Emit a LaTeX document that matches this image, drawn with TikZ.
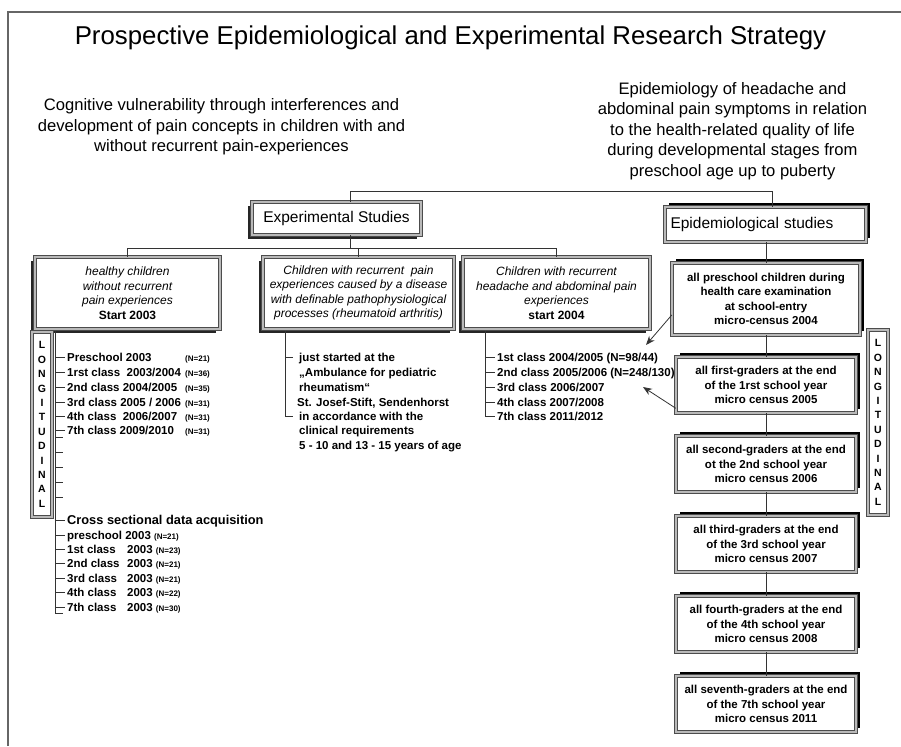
\documentclass[tikz,border=0pt]{standalone}
\usepackage{fontspec}
\setmainfont{Liberation Sans}
\usetikzlibrary{arrows.meta}
\usetikzlibrary{shadows}
\newcommand{\subfont}{\fontsize{16.6}{20.5}\selectfont}
\newcommand{\boxfont}{\fontsize{12}{14.5}\selectfont\itshape}
\newcommand{\epifont}{\fontsize{11.5}{14.5}\selectfont\bfseries}
\newcommand{\itemfont}{\fontsize{11.5}{14.5}\selectfont\bfseries}
\newcommand{\longfont}{\fontsize{10.5}{14.4}\selectfont\bfseries}
\newcommand{\nsmall}{\fontsize{8}{9}\selectfont}

\tikzset{
    rim/.style={draw=black!70, line width=0.5pt, double=gray!55, double distance=2.4pt,
        fill=white, align=center, inner sep=2pt},
    expbox/.style={rim, drop shadow={shadow xshift=-4pt, shadow yshift=-4pt, fill=black!85, opacity=1}},
    epibox/.style={rim, drop shadow={shadow xshift=4pt, shadow yshift=4.5pt, fill=black, opacity=1}},
    longbox/.style={rim, font=\longfont, inner sep=0pt, minimum width=20, minimum height=185},
    item/.style={anchor=west, inner xsep=2pt, inner ysep=0pt, text height=8.5pt, text depth=0pt, font=\itemfont},
    link/.style={draw=black!80, line width=0.8pt},
    arrow/.style={link, -{Stealth[length=9pt,width=7pt]}}
}

\begin{document}
\begin{tikzpicture}[x=1pt,y=-1pt]
    \useasboundingbox (0,0) rectangle (901,746);
    \draw[black!60, line width=1.2pt] (8,746) -- (8,12) -- (901,12);

    % headings
    \node[anchor=base] (title) at (450.5,45) {\fontsize{25.8}{30}\selectfont Prospective Epidemiological and Experimental Research Strategy};
    \node[font=\subfont, align=center] (cogn) at (221.5,127) {Cognitive vulnerability through interferences and\\development of pain concepts in children with and\\without recurrent pain-experiences};
    \node[font=\subfont, align=center] (epidem) at (732.5,131) {Epidemiology of headache and\\abdominal pain symptoms in relation\\to the health-related quality of life\\during developmental stages from\\preschool age up to puberty};

    % experimental branch
    \begin{scope}[every node/.style={expbox}]
        \node[minimum width=169, minimum height=33, font=\fontsize{15.5}{18}\selectfont] (exp) at (336.5,218.5) {Experimental Studies};
        \node[minimum width=185, minimum height=72, font=\boxfont] (healthy) at (127.5,293) {healthy children\\without recurrent\\pain experiences\\{\upshape\bfseries Start 2003}};
        \node[minimum width=191, minimum height=72, font=\boxfont] (rheuma) at (358.5,293) {Children with recurrent~ pain\\experiences caused by a disease\\with definable pathophysiological\\processes (rheumatoid arthritis)};
        \node[minimum width=187, minimum height=72, font=\boxfont] (headache) at (556.5,293) {Children with recurrent\\headache and abdominal pain\\experiences\\{\upshape\bfseries start 2004}};
    \end{scope}

    % epidemiological branch
    \begin{scope}[every node/.style={epibox, minimum width=180, minimum height=56, font=\epifont}]
        \node[minimum width=201, minimum height=35, text width=190, align=left, font=\fontsize{15.5}{18}\selectfont] (epi) at (765.5,224.5) {Epidemiological studies};
        \node[minimum width=188, minimum height=72] (e04) at (766,299) {all preschool children during\\health care examination\\at school-entry\\micro-census 2004};
        \node (e05) at (766,385) {all first-graders at the end\\of the 1rst school year\\micro census 2005};
        \node (e06) at (766,464) {all second-graders at the end\\ot the 2nd school year\\micro census 2006};
        \node (e07) at (766,544) {all third-graders at the end\\of the 3rd school year\\micro census 2007};
        \node (e08) at (766,624) {all fourth-graders at the end\\of the 4th school year\\micro census 2008};
        \node (e11) at (766,704) {all seventh-graders at the end\\of the 7th school year\\micro census 2011};
    \end{scope}

    \node[longbox] (longL) at (42,424.5) {L\\O\\N\\G\\I\\T\\U\\D\\I\\N\\A\\L};
    \node[longbox] (longR) at (878,422.5) {L\\O\\N\\G\\I\\T\\U\\D\\I\\N\\A\\L};

    % lists
    \begin{scope}[every node/.style={item}]
        \node (p1) at (65,357) {\makebox[118pt][l]{Preschool 2003}{\nsmall(N=21)}};
        \node (p2) at (65,372) {\makebox[118pt][l]{1rst class~ 2003/2004}{\nsmall(N=36)}};
        \node (p3) at (65,387) {\makebox[118pt][l]{2nd class 2004/2005}{\nsmall(N=35)}};
        \node (p4) at (65,402) {\makebox[118pt][l]{3rd class 2005 / 2006}{\nsmall(N=31)}};
        \node (p5) at (65,416) {\makebox[118pt][l]{4th class~ 2006/2007}{\nsmall(N=31)}};
        \node (p6) at (65,430) {\makebox[118pt][l]{7th class 2009/2010}{\nsmall(N=31)}};

        \node (c0) at (65,520) {\fontsize{12.8}{15}\selectfont Cross sectional data acquisition};
        \node (c1) at (65,535) {preschool 2003 {\nsmall(N=21)}};
        \node (c2) at (65,549) {\makebox[60pt][l]{1st class}2003 {\nsmall(N=23)}};
        \node (c3) at (65,563) {\makebox[60pt][l]{2nd class}2003 {\nsmall(N=21)}};
        \node (c4) at (65,578) {\makebox[60pt][l]{3rd class}2003 {\nsmall(N=21)}};
        \node (c5) at (65,592) {\makebox[60pt][l]{4th class}2003 {\nsmall(N=22)}};
        \node (c6) at (65,607) {\makebox[60pt][l]{7th class}2003 {\nsmall(N=30)}};

        \node (m1) at (297,357) {just started at the};
        \node (m2) at (297,372) {„Ambulance for pediatric};
        \node (m3) at (297,387) {rheumatism“};
        \node (m4) at (295,402) {St. Josef-Stift, Sendenhorst};
        \node (m5) at (297,416) {in accordance with the};
        \node (m6) at (297,430) {clinical requirements};
        \node (m7) at (297,445) {5 - 10 and 13 - 15 years of age};

        \node (r1) at (495,357) {1st class 2004/2005 (N=98/44)};
        \node (r2) at (495,372) {2nd class 2005/2006 (N=248/130)};
        \node (r3) at (495,387) {3rd class 2006/2007};
        \node (r4) at (495,402) {4th class 2007/2008};
        \node (r5) at (495,416) {7th class 2011/2012};
    \end{scope}

    \coordinate (lspine) at (55,331);
    \coordinate (lend) at (55,613);
    \coordinate (mspine) at (285,331);
    \coordinate (rspine) at (485,331);
    \coordinate (a1) at (646,345);
    \coordinate (a2) at (643,387);

    % connectors
    \draw[link] ([xshift=14pt]exp.north) -- ++(0,-10) -| ([xshift=6.5pt]epi.north);
    \draw[link] ([xshift=14pt]exp.south) -- ++(0,13) coordinate (hub);
    \draw[link] (healthy.north) |- (hub) -| (headache.north);
    \draw[link] (hub -| rheuma.north) -- (rheuma.north);
    \draw[link] (e04.north |- epi.south) -- (e04.north);
    \draw[link] (e04) -- (e05);
    \draw[link] (e05) -- (e06);
    \draw[link] (e06) -- (e07);
    \draw[link] (e07) -- (e08);
    \draw[link] (e08) -- (e11);

    \draw[link] (lspine) -- (lend) -- ++(8,0);
    \foreach \n in {p1,p2,p3,p4,p5,p6,c0,c1,c2,c3,c4,c5,c6}
        \draw[link] (lspine |- \n.west) -- (\n.west);
    \foreach \y in {437,452,467,482,497}
        \draw[link] (55,\y) -- ++(8,0);

    \draw[link] (mspine) |- ([xshift=-4pt]m5.west);
    \draw[link] (mspine |- m1.west) -- ([xshift=-4pt]m1.west);

    \draw[link] (rspine) |- (r5.west);
    \foreach \n in {r1,r2,r3,r4}
        \draw[link] (rspine |- \n.west) -- (\n.west);

    \draw[arrow] ([yshift=-16pt]e04.west) -- (a1);
    \draw[arrow] ([yshift=5pt]e05.south west) -- (a2);
\end{tikzpicture}
\end{document}
